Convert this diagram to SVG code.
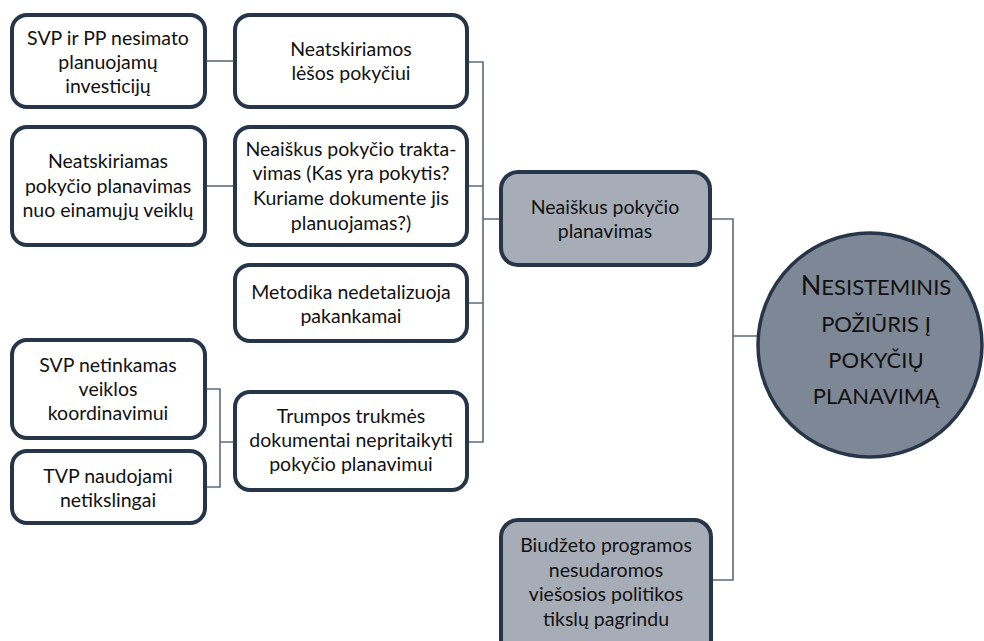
<svg xmlns="http://www.w3.org/2000/svg" width="984" height="641" viewBox="0 0 984 641">
<style>
.box{fill:#ffffff;stroke:#263548;stroke-width:4}
.hub{fill:#a7adb7;stroke:#263548;stroke-width:4}
.circ{fill:#7d8795;stroke:#263548;stroke-width:3.5}
.t{font-family:Lato,"Open Sans","Liberation Sans",sans-serif;font-size:19.5px;fill:#111;text-anchor:middle}
.c{font-family:Lato,"Open Sans","Liberation Sans",sans-serif;font-size:22px;fill:#111;text-anchor:middle}
.big{font-size:27px}
.con{fill:none;stroke:#5e6b7a;stroke-width:1.6}
</style>
<rect width="984" height="641" fill="#ffffff"/>
<g id="connectors">
<path class="con" d="M205,61H235"/>
<path class="con" d="M205,186H235"/>
<path class="con" d="M205,389H220V487H205M220,442H235"/>
<path class="con" d="M467,62H483V442H467M467,186H483M467,303H483M483,219H500"/>
<path class="con" d="M711,219H733V580H712M733,336H758"/>
</g>
<g id="n1"><rect class="box" x="12" y="15" width="193" height="92" rx="15"/>
<text class="t" x="108" y="45">SVP ir PP nesimato</text><text class="t" x="108" y="69">planuojamų</text><text class="t" x="108" y="93">investicijų</text></g>
<g id="n2"><rect class="box" x="12" y="127" width="193" height="118" rx="15"/>
<text class="t" x="108" y="168">Neatskiriamas</text><text class="t" x="108" y="193">pokyčio planavimas</text><text class="t" x="108" y="217">nuo einamųjų veiklų</text></g>
<g id="n3"><rect class="box" x="12" y="340" width="193" height="98" rx="15"/>
<text class="t" x="108" y="372">SVP netinkamas</text><text class="t" x="108" y="396">veiklos</text><text class="t" x="108" y="420">koordinavimui</text></g>
<g id="n4"><rect class="box" x="12" y="451" width="193" height="72" rx="15"/>
<text class="t" x="108" y="483">TVP naudojami</text><text class="t" x="108" y="507">netikslingai</text></g>
<g id="nA"><rect class="box" x="235" y="15" width="232" height="92" rx="15"/>
<text class="t" x="351" y="56">Neatskiriamos</text><text class="t" x="351" y="80">lėšos pokyčiui</text></g>
<g id="nB"><rect class="box" x="235" y="127" width="232" height="118" rx="15"/>
<text class="t" x="351" y="156">Neaiškus pokyčio trakta-</text><text class="t" x="351" y="180">vimas (Kas yra pokytis?</text><text class="t" x="351" y="205">Kuriame dokumente jis</text><text class="t" x="351" y="230">planuojamas?)</text></g>
<g id="nC"><rect class="box" x="235" y="265" width="232" height="76" rx="15"/>
<text class="t" x="351" y="299">Metodika nedetalizuoja</text><text class="t" x="351" y="323">pakankamai</text></g>
<g id="nD"><rect class="box" x="235" y="392" width="232" height="98" rx="15"/>
<text class="t" x="351" y="423">Trumpos trukmės</text><text class="t" x="351" y="447">dokumentai nepritaikyti</text><text class="t" x="351" y="471">pokyčio planavimui</text></g>
<g id="hub"><rect class="hub" x="501" y="172" width="209" height="93" rx="17"/>
<text class="t" x="605" y="214">Neaiškus pokyčio</text><text class="t" x="605" y="238">planavimas</text></g>
<g id="budget"><rect class="hub" x="501" y="520" width="210" height="140" rx="17"/>
<text class="t" x="606" y="552">Biudžeto programos</text><text class="t" x="606" y="577">nesudaromos</text><text class="t" x="606" y="601">viešosios politikos</text><text class="t" x="606" y="626">tikslų pagrindu</text></g>
<g id="root"><circle class="circ" cx="870" cy="345" r="112"/>
<text class="c" x="876" y="295"><tspan class="big">N</tspan>ESISTEMINIS</text>
<text class="c" x="876" y="332">POŽIŪRIS Į</text>
<text class="c" x="876" y="368">POKYČIŲ</text>
<text class="c" x="876" y="404">PLANAVIMĄ</text></g>
</svg>
